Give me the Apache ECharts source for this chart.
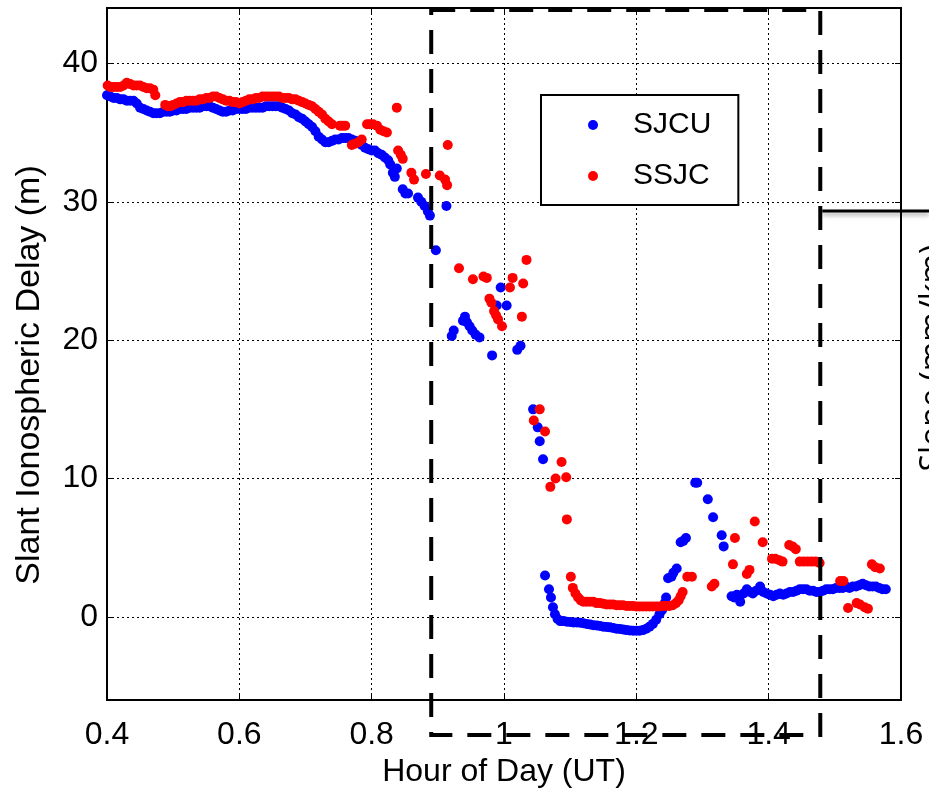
<!DOCTYPE html>
<html><head><meta charset="utf-8">
<script src="https://cdn.jsdelivr.net/npm/echarts@6/dist/echarts.min.js"></script>
<style>html,body{margin:0;padding:0;background:#fff}#c{width:929px;height:798px}</style>
</head><body><div id="c"></div>
<script>
// ---- data ----
const xTickValues = [0.4, 0.6, 0.8, 1.0, 1.2, 1.4, 1.6];
const yTickValues = [0, 10, 20, 30, 40];
const seriesNames = ['SJCU', 'SSJC'];

// SJCU: [hour of day (UT), slant ionospheric delay (m)]
const sjcuData = [
[0.400,37.7],[0.405,37.6],[0.410,37.5],[0.415,37.5],[0.420,37.4],[0.425,37.4],[0.430,37.3],[0.435,37.3],[0.440,37.3],[0.445,37.1],
[0.450,36.8],[0.455,36.7],[0.460,36.6],[0.465,36.5],[0.470,36.4],[0.475,36.4],[0.480,36.4],[0.485,36.5],[0.490,36.5],[0.495,36.5],
[0.500,36.6],[0.505,36.6],[0.510,36.7],[0.515,36.7],[0.520,36.7],[0.525,36.8],[0.530,36.8],[0.535,36.8],[0.540,36.8],[0.545,36.9],
[0.550,36.9],[0.555,36.9],[0.560,36.8],[0.565,36.7],[0.570,36.6],[0.575,36.5],[0.580,36.5],[0.585,36.6],[0.590,36.6],[0.595,36.7],
[0.600,36.7],[0.605,36.7],[0.610,36.7],[0.615,36.8],[0.620,36.8],[0.625,36.8],[0.630,36.8],[0.635,36.8],[0.640,36.9],[0.645,36.9],
[0.650,36.9],[0.655,36.9],[0.660,36.9],[0.665,36.8],[0.670,36.7],[0.675,36.6],[0.680,36.4],[0.685,36.3],[0.690,36.1],[0.695,36.0],
[0.700,35.8],[0.705,35.6],[0.710,35.4],[0.715,35.1],[0.720,34.7],[0.725,34.5],[0.730,34.3],[0.735,34.3],[0.740,34.4],[0.745,34.5],
[0.750,34.5],[0.755,34.6],[0.760,34.6],[0.765,34.6],[0.770,34.5],[0.775,34.4],[0.780,34.3],[0.785,34.1],[0.790,33.9],[0.795,33.8],
[0.800,33.7],[0.805,33.7],[0.810,33.5],[0.815,33.4],[0.820,33.2],[0.825,33.0],[0.828,32.7],[0.832,32.1],[0.835,31.8],[0.838,32.4],
[0.847,30.9],[0.851,30.6],[0.855,30.6],[0.870,30.3],[0.875,30.0],[0.880,29.7],[0.885,29.3],[0.888,29.0],[0.897,26.5],[0.913,29.7],
[0.921,20.3],[0.924,20.7],[0.938,21.4],[0.941,21.7],[0.944,21.3],[0.948,21.0],[0.952,20.7],[0.957,20.4],[0.963,20.2],[0.982,18.9],
[0.989,22.5],[0.995,23.8],[1.004,22.5],[1.020,19.3],[1.025,19.6],
[1.044,15.0],[1.051,13.7],[1.054,12.7],[1.059,11.4],[1.062,3.0],[1.068,2.0],[1.071,1.4],[1.074,0.7],[1.077,0.2],[1.081,-0.15],
[1.085,-0.3],[1.090,-0.3],[1.095,-0.35],[1.100,-0.37],[1.105,-0.4],[1.110,-0.4],[1.115,-0.42],[1.120,-0.45],[1.125,-0.5],[1.130,-0.55],
[1.135,-0.6],[1.140,-0.62],[1.145,-0.65],[1.150,-0.7],[1.155,-0.72],[1.160,-0.75],[1.165,-0.8],[1.170,-0.85],[1.175,-0.87],[1.180,-0.9],
[1.185,-0.95],[1.190,-0.97],[1.195,-1.0],[1.200,-1.0],[1.205,-1.0],[1.210,-0.95],[1.215,-0.85],[1.220,-0.7],[1.225,-0.5],[1.230,-0.2],
[1.235,0.2],[1.239,0.5],[1.243,1.0],[1.245,1.4],[1.248,2.8],[1.253,2.9],[1.256,3.2],[1.261,3.5],[1.267,5.4],[1.271,5.5],
[1.275,5.7],[1.289,9.7],[1.292,9.7],[1.308,8.5],[1.316,7.2],[1.329,5.9],[1.332,5.1],[1.344,1.5],[1.348,1.4],[1.352,1.6],
[1.357,1.1],[1.362,1.7],[1.367,2.0],[1.372,1.8],[1.376,1.7],[1.381,1.9],[1.387,2.2],[1.392,1.8],[1.397,1.7],[1.402,1.6],
[1.407,1.5],[1.412,1.6],[1.417,1.7],[1.422,1.6],[1.427,1.7],[1.432,1.8],[1.437,1.8],[1.442,1.9],[1.447,2.0],[1.452,2.0],
[1.457,2.0],[1.462,1.9],[1.467,1.9],[1.472,1.8],[1.477,1.8],[1.482,1.9],[1.487,2.0],[1.492,2.0],[1.497,2.0],[1.502,2.1],
[1.507,2.1],[1.512,2.1],[1.517,2.2],[1.522,2.1],[1.527,2.2],[1.532,2.2],[1.537,2.3],[1.542,2.4],[1.547,2.3],[1.552,2.2],
[1.557,2.2],[1.562,2.2],[1.567,2.1],[1.572,2.0],[1.577,2.0]
];

// SSJC: [hour of day (UT), slant ionospheric delay (m)]
const ssjcData = [
[0.401,38.4],[0.405,38.3],[0.410,38.3],[0.415,38.3],[0.420,38.3],[0.425,38.4],[0.430,38.6],[0.435,38.5],[0.440,38.4],[0.445,38.4],
[0.450,38.4],[0.455,38.3],[0.460,38.2],[0.465,38.2],[0.470,38.1],[0.473,37.7],[0.488,37.0],[0.492,36.9],[0.496,36.9],[0.500,37.0],
[0.505,37.1],[0.510,37.2],[0.515,37.2],[0.520,37.3],[0.525,37.3],[0.530,37.3],[0.535,37.3],[0.540,37.4],[0.545,37.4],[0.550,37.5],
[0.555,37.5],[0.560,37.6],[0.565,37.6],[0.570,37.5],[0.575,37.4],[0.580,37.3],[0.585,37.3],[0.590,37.2],[0.595,37.2],[0.600,37.1],
[0.605,37.2],[0.610,37.3],[0.615,37.4],[0.620,37.4],[0.625,37.5],[0.630,37.5],[0.635,37.6],[0.640,37.6],[0.645,37.6],[0.650,37.6],
[0.655,37.6],[0.660,37.6],[0.665,37.5],[0.670,37.5],[0.675,37.5],[0.680,37.4],[0.685,37.4],[0.690,37.3],[0.695,37.2],[0.700,37.1],
[0.705,37.0],[0.710,36.9],[0.715,36.7],[0.720,36.5],[0.725,36.3],[0.730,36.0],[0.735,35.8],[0.740,35.6],[0.752,35.5],[0.756,35.5],
[0.760,35.5],[0.770,34.1],[0.775,34.2],[0.780,34.3],[0.785,34.5],[0.793,35.6],[0.797,35.6],[0.802,35.6],[0.808,35.5],[0.813,35.2],
[0.818,35.1],[0.823,35.0],[0.838,36.8],[0.840,33.7],[0.844,33.4],[0.847,33.1],[0.860,32.1],[0.864,31.6],[0.882,32.0],[0.903,31.9],
[0.911,31.6],[0.914,31.2],[0.915,34.1],[0.932,25.2],[0.953,24.4],[0.969,24.6],[0.974,24.5],[0.978,23.0],[0.981,22.7],[0.985,22.1],
[0.988,21.8],[0.991,21.5],[0.997,21.0],[1.009,23.8],[1.013,24.5],[1.027,21.7],[1.029,24.1],[1.034,25.8],[1.045,14.2],[1.054,15.0],
[1.062,13.4],[1.070,9.4],[1.078,10.0],[1.087,11.2],[1.094,10.1],[1.095,7.05],[1.101,2.9],[1.104,2.1],[1.108,1.7],[1.112,1.4],
[1.116,1.2],[1.120,1.1],[1.125,1.1],[1.130,1.1],[1.135,1.1],[1.140,1.0],[1.145,1.0],[1.150,0.95],[1.155,0.9],[1.160,0.9],
[1.165,0.9],[1.170,0.85],[1.175,0.85],[1.180,0.85],[1.185,0.8],[1.190,0.8],[1.195,0.8],[1.200,0.75],[1.205,0.75],[1.210,0.75],
[1.215,0.75],[1.220,0.75],[1.225,0.75],[1.230,0.75],[1.235,0.75],[1.240,0.8],[1.245,0.8],[1.250,0.8],[1.255,0.85],[1.260,1.0],
[1.264,1.2],[1.267,1.5],[1.270,1.8],[1.277,2.9],[1.284,2.9],[1.314,2.2],[1.318,2.4],[1.346,3.8],[1.349,5.7],[1.367,3.1],
[1.371,3.4],[1.379,6.9],[1.391,5.4],[1.405,4.2],[1.410,4.2],[1.416,4.1],[1.421,4.0],[1.431,5.2],[1.436,5.1],[1.441,4.9],
[1.447,4.0],[1.453,4.0],[1.459,4.0],[1.465,4.0],[1.471,4.0],[1.477,3.9],[1.508,2.6],[1.513,2.6],[1.520,0.65],[1.533,1.0],
[1.538,0.9],[1.545,0.7],[1.550,0.6],[1.556,3.8],[1.561,3.6],[1.568,3.5]
];

// annotation: dashed zoom box (hours)
const boxStartHour = 0.89;
const boxEndHour = 1.478;

// ---- chart ----
const FONT = '"Liberation Sans", Arial, Helvetica, sans-serif';
const chart = echarts.init(document.getElementById('c'), null, {renderer: 'canvas'});

const option = {
  animation: false,
  backgroundColor: '#fff',
  grid: {left: 107, right: 28, top: 8, bottom: 98, show: true, borderColor: '#000', borderWidth: 2, containLabel: false},
  legend: {
    data: seriesNames.map(n => ({name: n, icon: 'circle'})),
    orient: 'vertical', left: 541, top: 95,
    padding: [15, 27, 14, 47], itemWidth: 10, itemHeight: 10, itemGap: 21,
    borderColor: '#000', borderWidth: 2, backgroundColor: '#fff',
    textStyle: {color: '#000', fontSize: 30, lineHeight: 30, fontFamily: FONT, padding: [0, 0, 0, 30]}
  },
  xAxis: [{
    type: 'value', min: xTickValues[0], max: xTickValues[xTickValues.length - 1], interval: 0.2,
    name: 'Hour of Day (UT)', nameLocation: 'middle', nameGap: 55,
    nameTextStyle: {color: '#000', fontSize: 32, fontFamily: FONT},
    axisLine: {show: true, onZero: false, lineStyle: {color: '#000', width: 2}},
    axisTick: {show: true, inside: true, length: 6, lineStyle: {color: '#000', width: 1}},
    axisLabel: {color: '#000', fontSize: 32, fontFamily: FONT, margin: 19},
    splitLine: {show: true, lineStyle: {color: '#000', width: 1, type: [2, 3]}}
  }, {
    type: 'value', position: 'top', min: xTickValues[0], max: xTickValues[xTickValues.length - 1], interval: 0.2,
    axisLine: {show: false, onZero: false}, axisLabel: {show: false}, splitLine: {show: false},
    axisTick: {show: true, inside: true, length: 6, lineStyle: {color: '#000', width: 1}}
  }],
  yAxis: [{
    type: 'value', min: -6, max: 44, splitNumber: 5,
    name: 'Slant Ionospheric Delay (m)', nameLocation: 'middle', nameGap: 60,
    nameTextStyle: {color: '#000', fontSize: 34, fontFamily: FONT, padding: [0, 42, 0, 0]},
    axisLine: {show: true, onZero: false, lineStyle: {color: '#000', width: 2}},
    axisTick: {show: true, inside: true, length: 6, lineStyle: {color: '#000', width: 1}},
    axisLabel: {color: '#000', fontSize: 32, fontFamily: FONT, margin: 9, showMinLabel: false, showMaxLabel: false},
    splitLine: {show: true, lineStyle: {color: '#000', width: 1, type: [2, 3]}}
  }, {
    type: 'value', position: 'right', min: -6, max: 44, splitNumber: 5,
    axisLine: {show: false, onZero: false}, axisLabel: {show: false}, splitLine: {show: false},
    axisTick: {show: true, inside: true, length: 6, lineStyle: {color: '#000', width: 1}}
  }],
  series: [
    {name: seriesNames[0], type: 'scatter', data: sjcuData, symbol: 'circle', symbolSize: 10,
     itemStyle: {color: '#0000ff', opacity: 1}, z: 3},
    {name: seriesNames[1], type: 'scatter', data: ssjcData, symbol: 'circle', symbolSize: 10,
     itemStyle: {color: '#ff0000', opacity: 1}, z: 4}
  ]
};
chart.setOption(option);

const x0 = chart.convertToPixel({xAxisIndex: 0}, boxStartHour);
const x1 = chart.convertToPixel({xAxisIndex: 0}, boxEndHour);
chart.setOption({
  graphic: [
    {type: 'rect', z: 100, silent: true,
     shape: {x: x0, y: 10, width: x1 - x0, height: 725},
     style: {fill: 'none', stroke: '#000', lineWidth: 4, lineDash: [24, 15]}},
    {type: 'line', z: 90, silent: true,
     shape: {x1: x1 + 2, y1: 211, x2: 929, y2: 211},
     style: {stroke: '#000', lineWidth: 3, shadowColor: 'rgba(0,0,0,0.35)', shadowBlur: 4, shadowOffsetY: 3}},
    {type: 'text', z: 90, silent: true, x: 934, y: 358, rotation: Math.PI / 2,
     style: {text: 'Slope (mm/km)', fill: '#000', fontSize: 32, fontFamily: '"Open Sans", sans-serif',
             align: 'center', verticalAlign: 'middle'}}
  ]
});
</script>
</body></html>
